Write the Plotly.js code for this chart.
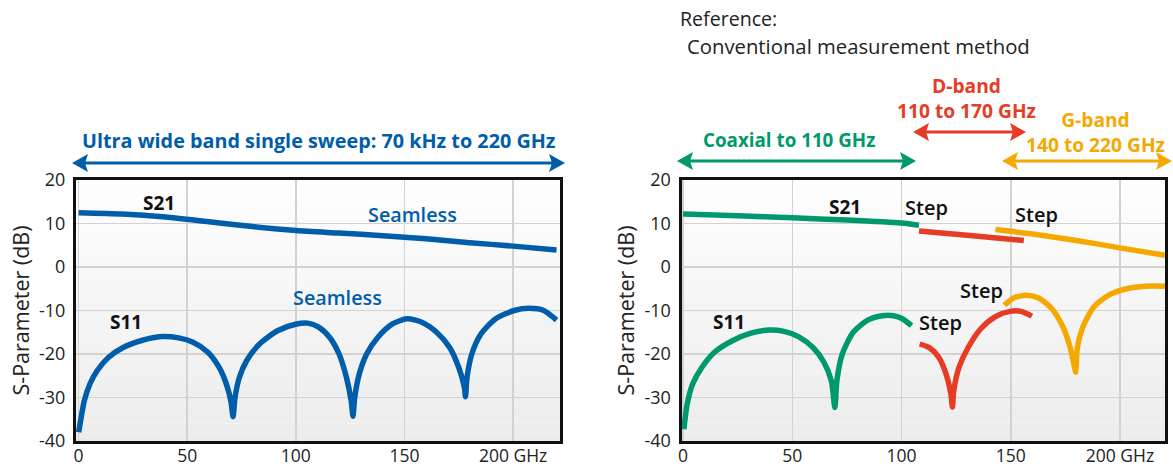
<!DOCTYPE html>
<html>
<head>
<meta charset="utf-8">
<script src="https://cdn.plot.ly/plotly-3.0.1.min.js"></script>
<style>html,body{margin:0;padding:0;background:#fff;}#chart{width:1173px;height:467px;}</style>
</head>
<body>
<div id="chart"></div>
<script>
// ---------- data (GHz / dB) ----------
const FREQ_TICKS = [0, 50, 100, 150, 200];
const FREQ_TICK_TEXT = ['0', '50', '100', '150', '200 GHz'];
const DB_TICKS = [20, 10, 0, -10, -20, -30, -40];
const DB_TICK_TEXT = ['20', '10', '0', '-10', '-20', '-30', '-40'];

// Left: ultra wide band single sweep (seamless)
const sweepS21Freq = [0, 20, 40, 60, 80, 100, 120, 140, 160, 180, 200, 220];
const sweepS21dB   = [12.5, 12.2, 11.5, 10.4, 9.3, 8.4, 7.8, 7.2, 6.5, 5.6, 4.8, 3.9];

const sweepS11Freq = [0, 0.9, 2.6, 5.2, 8.6, 13.7, 20.5, 29, 38.3, 46, 52.7, 59.5, 64.7, 68, 70.1, 71.1,
  72, 74, 77.4, 83.3, 91.8, 100.3, 105.4, 110.5, 115.6, 119.9, 123.3, 125.5, 126.3,
  127.1, 129.2, 132.6, 137.7, 144.5, 151.2, 158, 164.8, 170.8, 175, 177.6, 178.1,
  178.8, 181, 185.2, 192, 200.5, 207.3, 214.1, 220];
const sweepS11dB = [-38, -35.4, -30.8, -26.9, -23.8, -20.8, -18.5, -16.9, -16.0, -16.3, -17.3, -19.6, -23.1, -26.9, -30.8, -34.4,
  -30, -25.4, -21.5, -17.7, -14.6, -13.1, -12.9, -13.8, -16.2, -20, -25.4, -30.8, -34.3,
  -30, -24.6, -20, -16.2, -13.1, -11.9, -12.7, -15, -18.5, -23.1, -27.7, -29.8,
  -25.4, -20, -15.4, -11.9, -10, -9.5, -10, -12.2];

// Right: conventional method, three bands
const coaxS21Freq = [0, 25, 50, 75, 100, 108];
const coaxS21dB   = [12.2, 11.8, 11.3, 10.8, 10.1, 9.6];
const dS21Freq = [108, 130, 156];
const dS21dB   = [8.3, 7.3, 6.1];
const gS21Freq = [143, 160, 180, 200, 220.6];
const gS21dB   = [8.6, 7.6, 6.1, 4.4, 2.7];

const coaxS11Freq = [0.4, 1.9, 4.4, 8.6, 14.4, 22.8, 31.1, 39.5, 46.2, 52.8, 59.5, 64.5, 67.9, 69.5,
  70.4, 72.9, 77.9, 84.5, 91.2, 96.3, 100.4, 104.6];
const coaxS11dB = [-37.3, -31.5, -26.9, -23.1, -19.6, -16.9, -15.2, -14.5, -14.8, -16, -18.5, -21.9, -26.2, -32.3,
  -26.2, -20, -15, -12.2, -11.2, -11.2, -11.9, -13.5];
const dS11Freq = [108.3, 112.9, 117.1, 120.4, 122.6, 123.3, 123.9, 126.3, 130.5, 136.3, 143, 149.7, 154.7, 159.7];
const dS11dB   = [-17.7, -18.6, -20.8, -24.6, -29.2, -32.2, -28.5, -23.1, -18.5, -14.2, -11.4, -10.2, -10.2, -11.3];
const gS11Freq = [147.1, 151.3, 157.2, 163, 168.8, 173.9, 177.2, 179.2, 179.7, 180.5, 183, 188, 194.7, 203, 211.4, 220.6];
const gS11dB   = [-8.8, -7.1, -6.5, -7.2, -9.6, -13.8, -18.5, -23.1, -24.2, -18.5, -13.8, -9.2, -6.5, -5, -4.4, -4.4];

// ---------- style ----------
const W = 1173, H = 467;
const BLUE = '#005daa', GREEN = '#00996e', RED = '#e63c26', ORANGE = '#f5a900';
const FONT = 'Open Sans, Noto Sans, sans-serif';
const P = px => px / W;            // pixel -> paper x
const Q = py => 1 - py / H;        // pixel -> paper y
const LW = 5.5;

function line(x, y, color, xa, ya) {
  return {x, y, xaxis: xa, yaxis: ya, type: 'scatter', mode: 'lines',
    line: {color, width: LW, shape: 'spline', smoothing: 0.7}, hoverinfo: 'skip', showlegend: false};
}

const traces = [
  line(sweepS21Freq, sweepS21dB, BLUE, 'x', 'y'),
  line(sweepS11Freq, sweepS11dB, BLUE, 'x', 'y'),
  line(coaxS21Freq, coaxS21dB, GREEN, 'x2', 'y2'),
  line(dS21Freq, dS21dB, RED, 'x2', 'y2'),
  line(gS21Freq, gS21dB, ORANGE, 'x2', 'y2'),
  line(coaxS11Freq, coaxS11dB, GREEN, 'x2', 'y2'),
  line(dS11Freq, dS11dB, RED, 'x2', 'y2'),
  line(gS11Freq, gS11dB, ORANGE, 'x2', 'y2')
];

function xAxis(domainPx, range, anchor) {
  return {domain: [P(domainPx[0]), P(domainPx[1])], range, anchor,
    tickvals: FREQ_TICKS, ticktext: FREQ_TICK_TEXT, showgrid: true, gridcolor: '#d2d2d2', gridwidth: 1.5,
    zeroline: false, showline: true, linecolor: '#111', linewidth: 3, mirror: true,
    ticks: '', ticklabelstandoff: -3, tickfont: {family: FONT, size: 17.5, color: '#222'}, fixedrange: true};
}
function yAxis(anchor) {
  return {domain: [Q(441), Q(180)], range: [-40, 20], anchor, tickvals: DB_TICKS, ticktext: DB_TICK_TEXT,
    showgrid: true, gridcolor: '#d2d2d2', gridwidth: 1.5, zeroline: false,
    showline: true, linecolor: '#111', linewidth: 3, mirror: true,
    ticks: 'outside', ticklen: 4, tickcolor: 'rgba(0,0,0,0)',
    tickfont: {family: FONT, size: 18, color: '#222'},
    title: {text: 'S-Parameter (dB)', font: {family: FONT, size: 21.5, color: '#222'}, standoff: 4},
    fixedrange: true};
}

// background gradient bands
const shapes = [];
const N = 30;
[['x', 'y'], ['x2', 'y2']].forEach(([xa, ya]) => {
  for (let i = 0; i < N; i++) {
    const t = (i + 0.5) / N;           // 0 bottom -> 1 top
    const c = Math.round(236 + (254 - 236) * t);
    shapes.push({type: 'rect', xref: xa + ' domain', yref: ya + ' domain', x0: 0, x1: 1,
      y0: i / N, y1: (i + 1) / N, fillcolor: `rgb(${c},${c},${c})`, line: {width: 0}, layer: 'below'});
  }
});

// double-headed arrows (pixel positions -> paper)
function dblArrow(x1, x2, y, color) {
  const hl = 16, hw = 9, notch = 3;
  shapes.push({type: 'line', xref: 'paper', yref: 'paper', x0: P(x1 + hl - notch), x1: P(x2 - hl + notch),
    y0: Q(y), y1: Q(y), line: {color, width: 3}});
  const pts = (arr) => 'M ' + arr.map(([a, b]) => P(a) + ' ' + Q(b)).join(' L ') + ' Z';
  shapes.push({type: 'path', xref: 'paper', yref: 'paper', fillcolor: color, line: {width: 0},
    path: pts([[x1, y], [x1 + hl, y - hw], [x1 + hl - notch, y], [x1 + hl, y + hw]])});
  shapes.push({type: 'path', xref: 'paper', yref: 'paper', fillcolor: color, line: {width: 0},
    path: pts([[x2, y], [x2 - hl, y - hw], [x2 - hl + notch, y], [x2 - hl, y + hw]])});
}
dblArrow(72, 565, 163, BLUE);
dblArrow(677, 916, 161, GREEN);
dblArrow(913, 1026, 132, RED);
dblArrow(1002, 1172, 161, ORANGE);

function label(text, px, py, color, size, weight, anchor) {
  return {text, x: P(px), y: Q(py), xref: 'paper', yref: 'paper', showarrow: false,
    xanchor: anchor || 'center', yanchor: 'middle',
    font: {family: FONT, size, color, weight: weight || 'normal'}};
}
const annotations = [
  label('Ultra wide band single sweep: 70 kHz to 220 GHz', 319, 140, BLUE, 19.8, 'bold'),
  label('S21', 159, 203, '#111', 19, 'bold'),
  label('Seamless', 412, 215, BLUE, 19.8, 600),
  label('Seamless', 337, 297, BLUE, 19.8, 600),
  label('S11', 126, 322, '#111', 19, 'bold'),
  label('Reference:', 678, 19, '#222', 19.6, 'normal', 'left'),
  label('Conventional measurement method', 685, 46, '#222', 20.3, 'normal', 'left'),
  label('Coaxial to 110 GHz', 789, 140, GREEN, 18.8, 'bold'),
  label('D-band<br>110 to 170 GHz', 966, 97.5, RED, 19.2, 'bold'),
  label('G-band<br>140 to 220 GHz', 1095, 132.5, ORANGE, 19.2, 'bold'),
  label('S21', 845, 207, '#111', 19, 'bold'),
  label('Step', 926, 207, '#111', 20, 600),
  label('Step', 1036, 214, '#111', 20, 600),
  label('Step', 981, 290, '#111', 20, 600),
  label('Step', 940, 322, '#111', 20, 600),
  label('S11', 729, 322, '#111', 19, 'bold')
];

const layout = {
  width: W, height: H, margin: {l: 0, r: 0, t: 0, b: 0},
  paper_bgcolor: '#fff', plot_bgcolor: 'rgba(0,0,0,0)', showlegend: false,
  xaxis: xAxis([76, 560], [-1.2, 221.6], 'y'),
  yaxis: yAxis('x'),
  xaxis2: xAxis([681.5, 1165], [-0.7, 220.6], 'y2'),
  yaxis2: yAxis('x2'),
  shapes, annotations
};

Plotly.newPlot('chart', traces, layout, {staticPlot: true, displayModeBar: false});
</script>
</body>
</html>
